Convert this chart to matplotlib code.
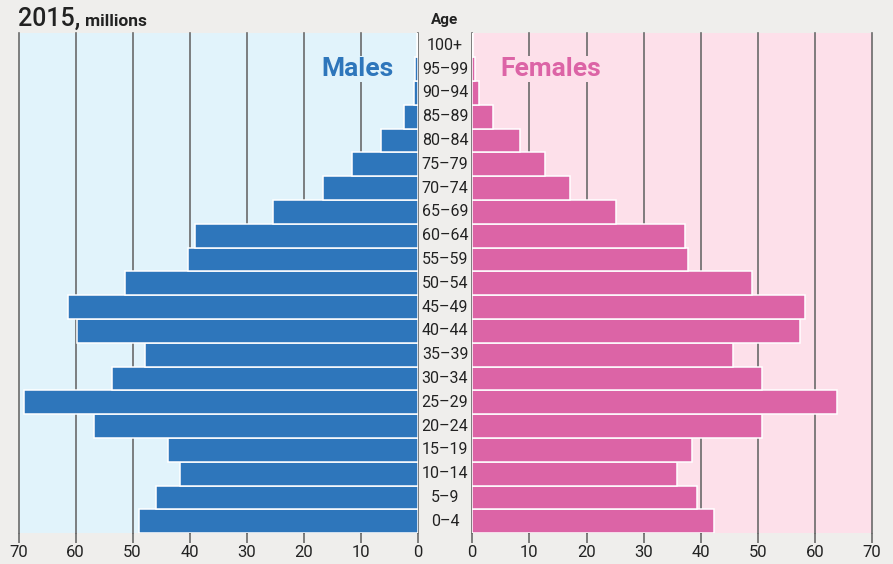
import matplotlib
matplotlib.use("Agg")
import matplotlib.pyplot as plt
from matplotlib.transforms import blended_transform_factory

plt.rcParams['font.family'] = ['Roboto', 'DejaVu Sans']

ages = ["0–4", "5–9", "10–14", "15–19", "20–24", "25–29", "30–34", "35–39",
        "40–44", "45–49", "50–54", "55–59", "60–64", "65–69", "70–74",
        "75–79", "80–84", "85–89", "90–94", "95–99", "100+"]
males = [48.8, 45.9, 41.7, 43.8, 56.8, 69.1, 53.6, 47.9, 59.8, 61.3, 51.3,
         40.3, 39.0, 25.3, 16.6, 11.6, 6.5, 2.4, 0.6, 0.4, 0.05]
females = [42.3, 39.3, 35.8, 38.5, 50.8, 63.9, 50.7, 45.6, 57.4, 58.3, 49.0,
           37.8, 37.2, 25.2, 17.1, 12.8, 8.3, 3.7, 1.2, 0.45, 0.1]
ticks = [0, 10, 20, 30, 40, 50, 60, 70]

BG = '#efeeec'
MALE = '#2e76bb'
FEMALE = '#dc64a6'
MALE_BG = '#e1f3fb'
FEMALE_BG = '#fde0ea'
GRID = '#6a6a6a'
TXT = '#222222'

W, H = 893, 564
fig = plt.figure(figsize=(W / 100, H / 100), dpi=100, facecolor=BG)

top_px, bot_px = 33.3, 533.3
def rect(x0, x1):
    return [x0 / W, (H - bot_px) / H, (x1 - x0) / W, (bot_px - top_px) / H]

axL = fig.add_axes(rect(18.5, 417.7), facecolor=MALE_BG)
axR = fig.add_axes(rect(472.3, 872.0), facecolor=FEMALE_BG)

y = list(range(len(ages)))
for ax, vals, col, bgc in ((axL, males, MALE, MALE_BG), (axR, females, FEMALE, FEMALE_BG)):
    ax.set_xlim(0, 70)
    ax.set_ylim(-0.5, len(ages) - 0.5)
    for t in ticks:
        ax.axvline(t, color=GRID, lw=1.2, zorder=1, clip_on=False)
    ax.barh(y, vals, height=1.0, color=col, edgecolor='white', linewidth=1.1, zorder=3)
    for s in ax.spines.values():
        s.set_visible(False)
    ax.set_yticks([])
    ax.set_xticks(ticks)
    ax.set_xticklabels([str(t) for t in ticks], fontsize=12, color=TXT)
    ax.tick_params(axis='x', direction='out', length=7, width=1.2, color=GRID, pad=1.5)

axL.invert_xaxis()

# age labels in the central column
trans = blended_transform_factory(fig.transFigure, axL.transData)
for i, a in enumerate(ages):
    fig.text(445 / W, i, a, transform=trans, ha='center', va='center',
             fontsize=11.5, color=TXT)

fig.text(445 / W, 1 - 20 / H, "Age", ha='center', va='center', fontsize=11,
         fontweight='bold', color=TXT)

# series labels
axL.text(10.5, 19, "Males", ha='center', va='center', fontsize=19, fontweight='bold',
         color=MALE, zorder=2,
         bbox=dict(facecolor=MALE_BG, edgecolor='none', pad=1))
axR.text(13.8, 19, "Females", ha='center', va='center', fontsize=19, fontweight='bold',
         color=FEMALE, zorder=2,
         bbox=dict(facecolor=FEMALE_BG, edgecolor='none', pad=1))

# title
t1 = fig.text(18 / W, 1 - 26 / H, "2015,", ha='left', va='baseline', fontsize=18,
              fontweight='medium', color=TXT)
fig.canvas.draw()
bb = t1.get_window_extent(renderer=fig.canvas.get_renderer())
fig.text((bb.x1 + 5) / W, 1 - 26 / H, "millions", ha='left', va='baseline',
         fontsize=12.5, fontweight='bold', color=TXT)

fig.savefig("out.png", dpi=100, facecolor=BG)
